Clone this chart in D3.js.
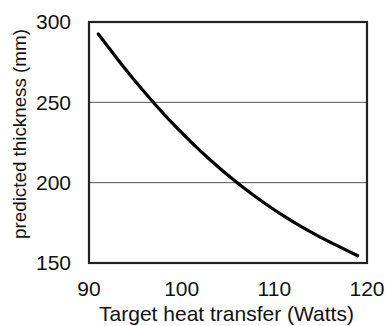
<!DOCTYPE html>
<html>
<head>
<meta charset="utf-8">
<script src="https://cdn.jsdelivr.net/npm/d3@7"></script>
<style>
  body { margin: 0; background: #fff; }
  text { font-family: "Liberation Sans", Arial, sans-serif; fill: #111; }
</style>
</head>
<body>
<svg></svg>
<script>
var width = 385;
var height = 326;

// values
var heatTransfer = [91, 93, 95, 97, 99, 101, 103, 105, 107, 109, 111, 113, 115, 117, 119];
var thickness = [292.5, 277.5, 263.1, 249.6, 237, 225.4, 214.6, 204.6, 195.4, 187, 179.3, 172.3, 166, 160.2, 154.5];
var xTicks = [90, 100, 110, 120];
var yTicks = [150, 200, 250, 300];
var gridValues = [200, 250];

var margin = {left: 89, right: 18, top: 22, bottom: 63};

var svg = d3.select("svg")
  .attr("width", width)
  .attr("height", height);

var x = d3.scaleLinear().domain([90, 120]).range([margin.left, width - margin.right]);
var y = d3.scaleLinear().domain([150, 300]).range([height - margin.bottom, margin.top]);

// grid lines
svg.selectAll(".grid")
  .data(gridValues).enter()
  .append("line")
  .attr("class", "grid")
  .attr("x1", x(90)).attr("x2", x(120))
  .attr("y1", function(d) { return y(d); })
  .attr("y2", function(d) { return y(d); })
  .attr("stroke", "#555")
  .attr("stroke-width", 1);

// frame
svg.append("rect")
  .attr("x", x(90))
  .attr("y", y(300))
  .attr("width", x(120) - x(90))
  .attr("height", y(150) - y(300))
  .attr("fill", "none")
  .attr("stroke", "#222")
  .attr("stroke-width", 2.2);

var data = heatTransfer.map(function(d, i) { return {x: d, y: thickness[i]}; });

var line = d3.line()
  .x(function(d) { return x(d.x); })
  .y(function(d) { return y(d.y); })
  .curve(d3.curveMonotoneX);

svg.append("path")
  .datum(data)
  .attr("d", line)
  .attr("fill", "none")
  .attr("stroke", "#000")
  .attr("stroke-width", 3.2)
  .attr("stroke-linecap", "round");

// tick labels
svg.selectAll(".ytick")
  .data(yTicks).enter()
  .append("text")
  .attr("class", "ytick")
  .attr("x", x(90) - 18)
  .attr("y", function(d) { return y(d); })
  .attr("dy", "0.35em")
  .attr("text-anchor", "end")
  .style("font-size", "21px")
  .text(function(d) { return d; });

svg.selectAll(".xtick")
  .data(xTicks).enter()
  .append("text")
  .attr("class", "xtick")
  .attr("x", function(d) { return x(d); })
  .attr("y", 296)
  .attr("text-anchor", "middle")
  .style("font-size", "21px")
  .text(function(d) { return d; });

// axis titles
svg.append("text")
  .attr("x", (x(90) + x(120)) / 2 - 1.5)
  .attr("y", 321)
  .attr("text-anchor", "middle")
  .style("font-size", "21px")
  .text("Target heat transfer (Watts)");

svg.append("text")
  .attr("transform", "translate(26," + 134 + ") rotate(-90)")
  .attr("text-anchor", "middle")
  .style("font-size", "18.8px")
  .text("predicted thickness (mm)");
</script>
</body>
</html>
